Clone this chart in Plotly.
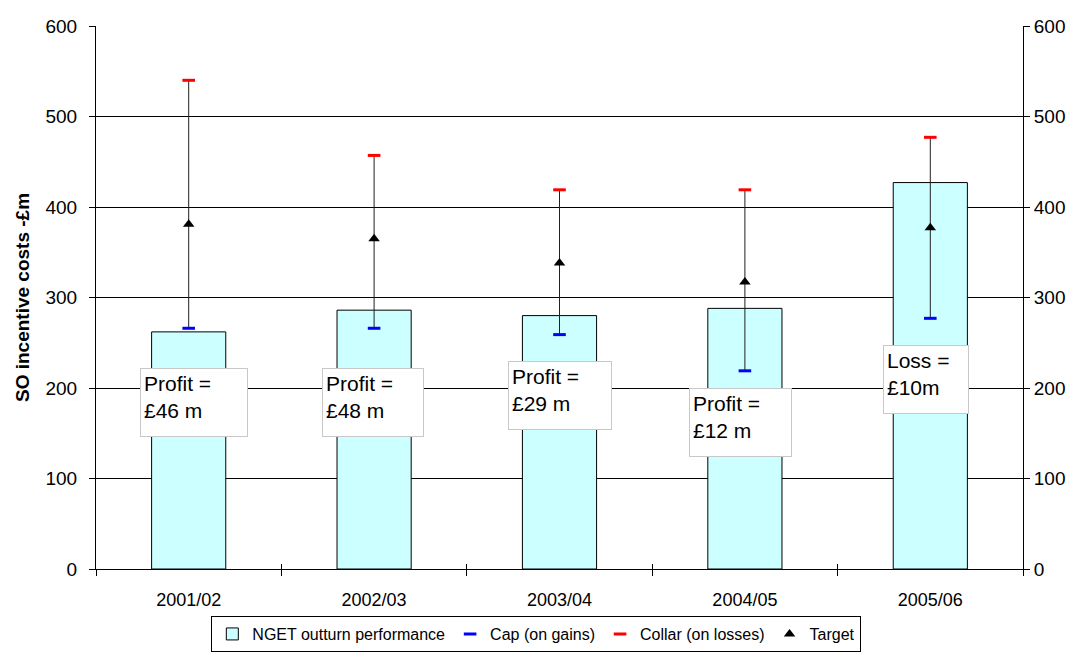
import plotly.graph_objects as go

# SO incentive scheme: outturn vs target band, per financial year
years = ["2001/02", "2002/03", "2003/04", "2004/05", "2005/06"]
outturn = [262, 286, 280, 288, 427]
cap_gains = [266, 266, 259, 219, 277]
collar_losses = [540, 457, 419, 419, 477]
target = [381, 365, 338, 317, 377]
result_labels = ["Profit =<br>£46 m", "Profit =<br>£48 m", "Profit =<br>£29 m",
                 "Profit =<br>£12 m", "Loss =<br>£10m"]
# label box placement: left edge offset (category units), top (£m), width/height (px)
label_dx = [-0.264, -0.283, -0.28, -0.30, -0.257]
label_top = [222, 222, 230, 200, 248]
label_w = [108, 102, 104, 103, 86]
label_h = [69, 69, 69, 69, 69]

FONT = "Liberation Sans, Arial, sans-serif"

fig = go.Figure()

fig.add_trace(go.Bar(
    x=years, y=outturn, name="NGET outturn performance",
    marker=dict(color="#CCFFFF", line=dict(color="black", width=1)),
))

# range lines from cap to collar
lx, ly = [], []
for yr, lo, hi in zip(years, cap_gains, collar_losses):
    lx += [yr, yr, None]
    ly += [lo, hi, None]
fig.add_trace(go.Scatter(x=lx, y=ly, mode="lines", line=dict(color="#202020", width=1),
                         showlegend=False, hoverinfo="skip"))

fig.add_trace(go.Scatter(
    x=years, y=cap_gains, mode="markers", name="Cap (on gains)",
    marker=dict(symbol="line-ew", size=9, line=dict(color="#0000FF", width=3)),
))
fig.add_trace(go.Scatter(
    x=years, y=collar_losses, mode="markers", name="Collar (on losses)",
    marker=dict(symbol="line-ew", size=9, line=dict(color="#FF0000", width=3)),
))
fig.add_trace(go.Scatter(
    x=years, y=target, mode="markers", name="Target",
    marker=dict(symbol="triangle-up", size=10, color="black"),
))

# invisible traces so the extra axes (right-hand scale, crossing tick marks) are drawn
hidden = dict(mode="markers", marker=dict(opacity=0), showlegend=False, hoverinfo="skip")
fig.add_trace(go.Scatter(x=years, y=target, yaxis="y2", **hidden))
fig.add_trace(go.Scatter(x=years, y=target, xaxis="x2", yaxis="y3", **hidden))
fig.add_trace(go.Scatter(x=years, y=target, yaxis="y4", **hidden))

for i, (txt, dx, top, w, h) in enumerate(zip(result_labels, label_dx, label_top, label_w, label_h)):
    fig.add_annotation(
        x=i + dx, y=top, xref="x", yref="y", text=txt, showarrow=False,
        xanchor="left", yanchor="top", align="left", valign="top",
        width=w - 8, height=h - 8, borderpad=3, borderwidth=1,
        bordercolor="#C8C8C8", bgcolor="white",
        font=dict(family=FONT, size=21, color="black"),
    )

tick_font = dict(family=FONT, size=19, color="black")
yrange = [0, 600]
fig.update_layout(
    width=1075, height=654,
    margin=dict(l=96, r=52, t=26, b=85, autoexpand=False),
    paper_bgcolor="white", plot_bgcolor="white",
    bargap=0.6,
    font=dict(family=FONT, size=18, color="black"),
    xaxis=dict(type="category", range=[-0.5, 4.5], tickson="boundaries", automargin=False,
               ticks="outside", ticklen=6, tickcolor="black", ticklabelstandoff=14,
               showline=True, linecolor="black", linewidth=1, showgrid=False,
               tickfont=dict(family=FONT, size=18, color="black")),
    xaxis2=dict(type="category", range=[-0.5, 4.5], overlaying="x", tickson="boundaries",
                ticks="inside", ticklen=5, tickcolor="black", showticklabels=False,
                showline=False, showgrid=False, automargin=False),
    yaxis=dict(range=yrange, dtick=100, showgrid=True, gridcolor="black", gridwidth=1,
               zeroline=False, showline=True, linecolor="black", ticks="outside",
               ticklen=6, tickcolor="black", tickfont=tick_font, ticklabelstandoff=8,
               automargin=False,
               title=dict(text="<b>SO incentive costs -£m</b>",
                          font=dict(family=FONT, size=19, color="black"), standoff=10)),
    yaxis2=dict(range=yrange, dtick=100, overlaying="y", side="right", showgrid=False,
                zeroline=False, showline=True, linecolor="black", ticks="outside",
                ticklen=6, tickcolor="black", tickfont=tick_font, automargin=False),
    yaxis3=dict(range=yrange, dtick=100, overlaying="y", side="left", showgrid=False,
                zeroline=False, showline=False, ticks="inside", ticklen=5,
                tickcolor="black", showticklabels=False, automargin=False),
    yaxis4=dict(range=yrange, dtick=100, overlaying="y", side="right", showgrid=False,
                zeroline=False, showline=False, ticks="inside", ticklen=5,
                tickcolor="black", showticklabels=False, automargin=False),
    legend=dict(orientation="h", x=0.475, xanchor="center", xref="paper",
                y=0.003, yanchor="bottom", yref="container",
                bordercolor="black", borderwidth=1,
                font=dict(family=FONT, size=16, color="black"),
                itemwidth=30, tracegroupgap=0),
    showlegend=True,
)

fig.write_html("out.html")
